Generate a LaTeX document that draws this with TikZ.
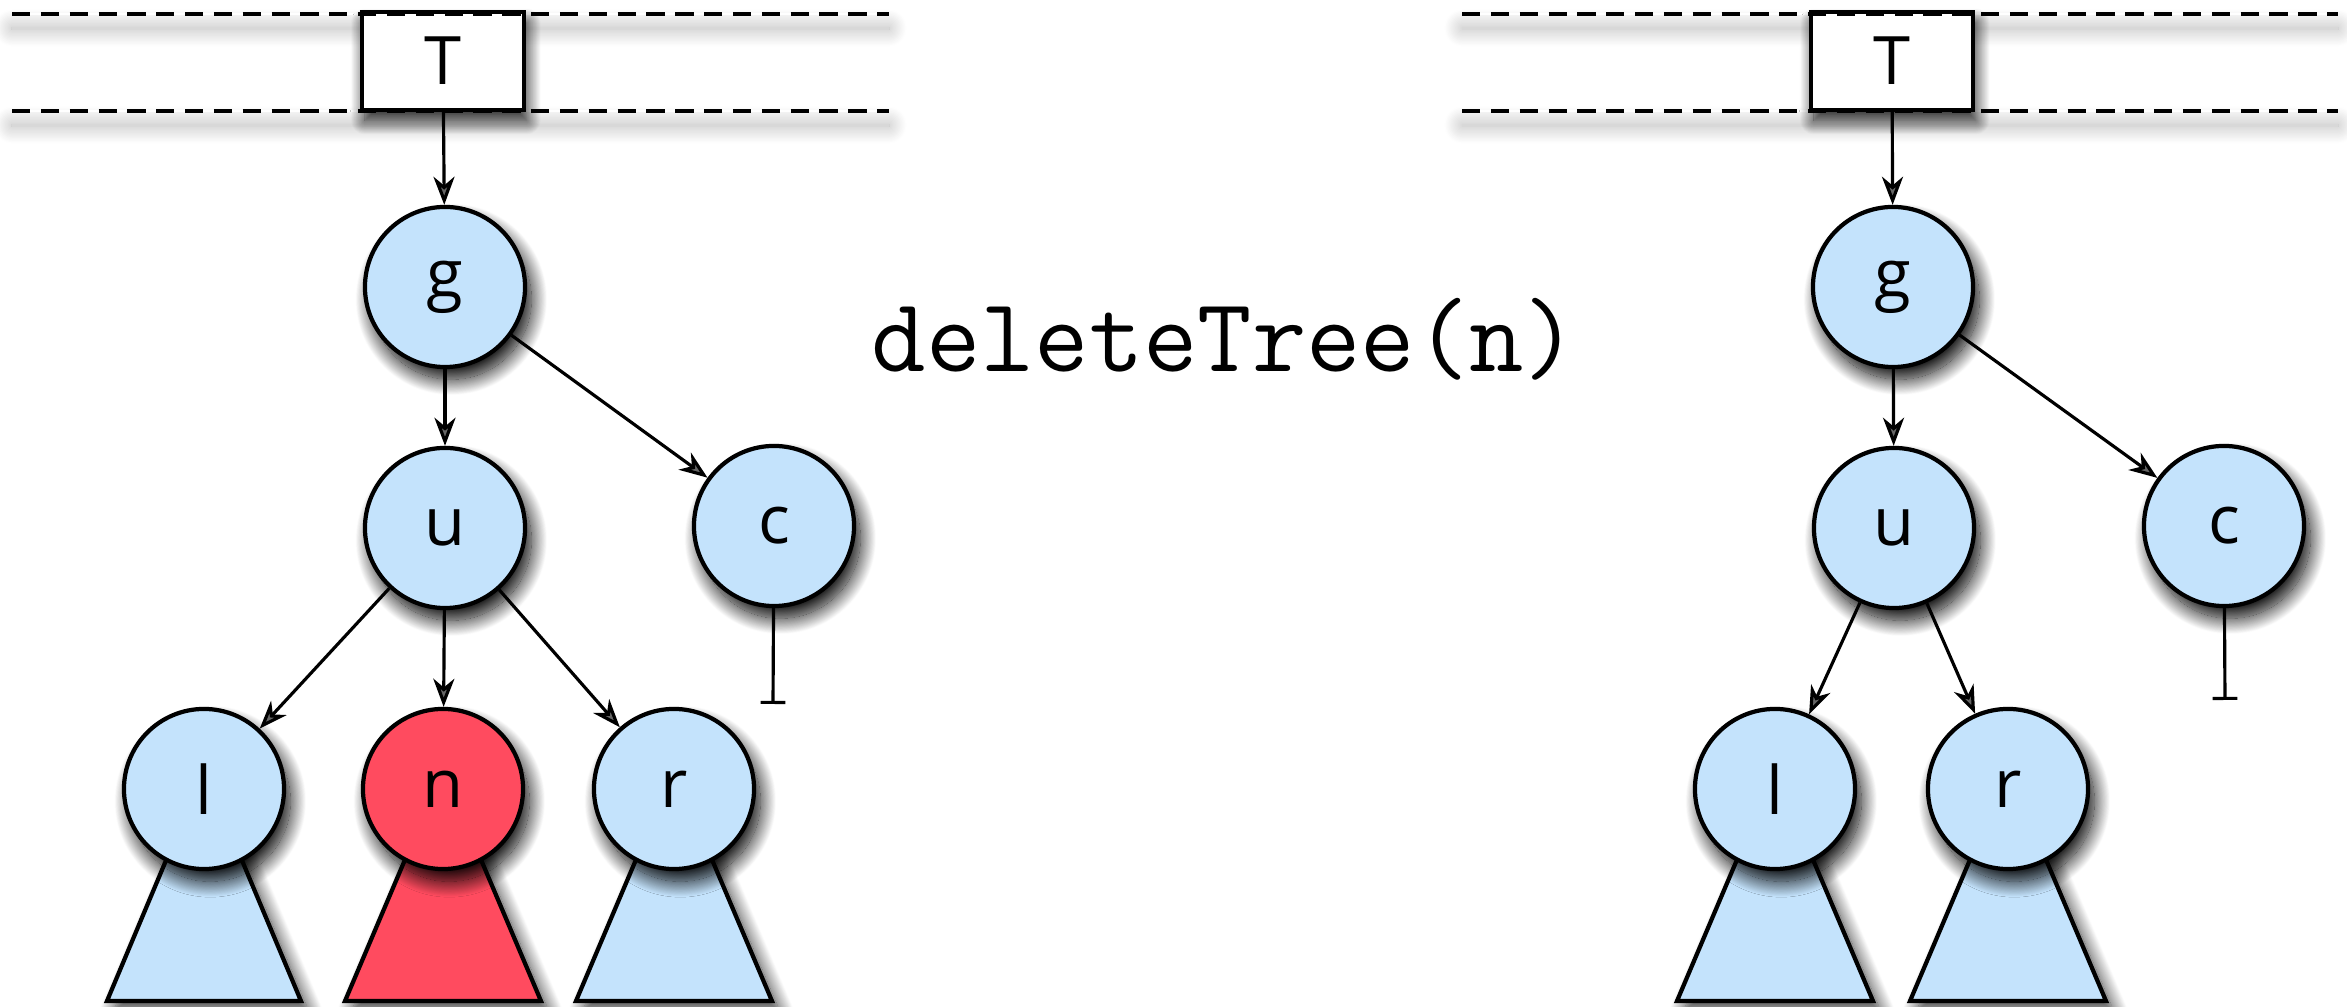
\documentclass[tikz,border=0pt]{standalone}
\usepackage{fontspec}
\setmainfont{Open Sans}
\usetikzlibrary{arrows.meta,shadows.blur}
\definecolor{nodeblue}{RGB}{196,227,252}
\definecolor{nodered}{RGB}{255,75,95}
\tikzset{
  treenode/.style={circle, draw, line width=1.2pt, fill=nodeblue, minimum size=1.6cm, inner sep=0pt,
    font=\fontsize{19}{19}\selectfont,
    blur shadow={shadow xshift=1.8pt, shadow yshift=-3.5pt, shadow blur radius=4.5pt, shadow blur steps=30, shadow opacity=100}},
  gone/.style={fill=nodered},
  subtree/.style={draw, line width=1.2pt, fill=nodeblue, line join=miter,
    blur shadow={shadow xshift=2pt, shadow yshift=-2.5pt, shadow blur radius=4pt, shadow blur steps=25, shadow opacity=80}},
  ptrbox/.style={rectangle, draw, line width=1.2pt, fill=white, minimum width=1.62cm, minimum height=0.98cm,
    inner sep=0pt, font=\fontsize{19}{19}\selectfont,
    blur shadow={shadow xshift=0.8pt, shadow yshift=-3pt, shadow blur radius=4pt, shadow blur steps=25, shadow opacity=90}},
  rail/.style={line width=1.05pt, dash pattern=on 5.2pt off 3pt},
  railshadow/.style={fill=white, blur shadow={shadow xshift=0pt, shadow yshift=-4pt, shadow blur radius=5pt, shadow blur steps=25, shadow opacity=30}},
  link/.style={line width=0.9pt, -{Stealth[length=8pt, width=6pt, inset=2.5pt]}},
  nillink/.style={line width=0.9pt, -{Bar[width=7pt, line width=0.9pt]}}
}
\begin{document}
\begin{tikzpicture}[x=0.01cm, y=-0.01cm]
\useasboundingbox (0,0) rectangle (2347,1007);
% before
\path[railshadow] (12,13) rectangle (889,15);
\path[railshadow] (12,110) rectangle (889,112);
\node[ptrbox] (T1) at (443,61) {T};
\draw[rail] (12,14) -- (889,14);
\draw[rail] (12,111) -- (889,111);
\draw[subtree] (196,789) -- (212,789) -- (301,1001) -- (107,1001) -- cycle;
\draw[subtree, gone] (435,789) -- (451,789) -- (541,1001) -- (345,1001) -- cycle;
\draw[subtree] (666,789) -- (682,789) -- (772,1001) -- (576,1001) -- cycle;
\node[treenode] (g1) at (445,287) {g};
\node[treenode] (u1) at (445,528) {u};
\node[treenode] (c1) at (774,526) {c};
\node[treenode] (l1) at (204,789) {l};
\node[treenode, gone] (n1) at (443,789) {n};
\node[treenode] (r1) at (674,789) {r};
\coordinate (cnil1) at (773,704);
\draw[link] (T1) -- (g1);
\draw[link] (g1) -- (u1);
\draw[link] (g1) -- (c1);
\draw[link] (u1) -- (l1);
\draw[link] (u1) -- (n1);
\draw[link] (u1) -- (r1);
\draw[nillink] (c1) -- (cnil1);
% call
\node[font=\fontsize{30}{30}\selectfont\ttfamily, anchor=base, inner sep=0pt] (call) at (1225,372) {deleteTree(n)};
% after
\path[railshadow] (1462,13) rectangle (2338,15);
\path[railshadow] (1462,110) rectangle (2338,112);
\node[ptrbox] (T2) at (1892,61) {T};
\draw[rail] (1462,14) -- (2338,14);
\draw[rail] (1462,111) -- (2338,111);
\draw[subtree] (1767,789) -- (1783,789) -- (1873,1001) -- (1677,1001) -- cycle;
\draw[subtree] (2000,789) -- (2016,789) -- (2106,1001) -- (1910,1001) -- cycle;
\node[treenode] (g2) at (1893,287) {g};
\node[treenode] (u2) at (1894,528) {u};
\node[treenode] (c2) at (2224,526) {c};
\node[treenode] (l2) at (1775,789) {l};
\node[treenode] (r2) at (2008,789) {r};
\coordinate (cnil2) at (2225,700);
\draw[link] (T2) -- (g2);
\draw[link] (g2) -- (u2);
\draw[link] (g2) -- (c2);
\draw[link] (u2) -- (l2);
\draw[link] (u2) -- (r2);
\draw[nillink] (c2) -- (cnil2);
\end{tikzpicture}
\end{document}
